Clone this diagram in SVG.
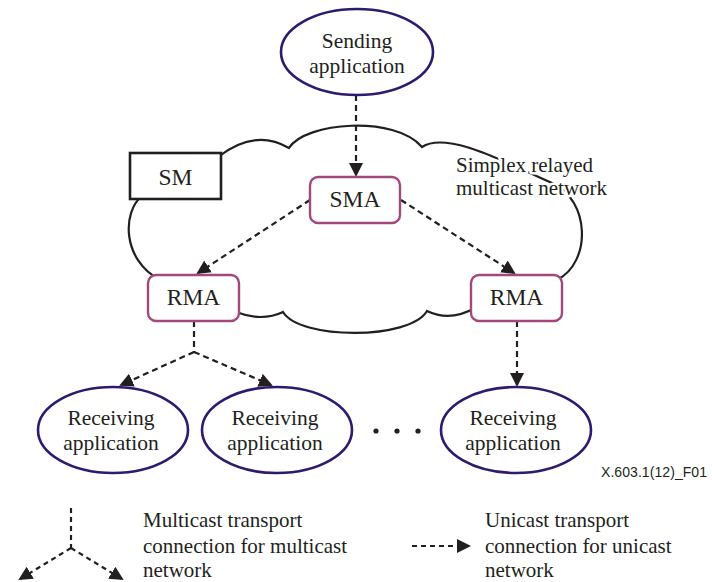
<svg xmlns="http://www.w3.org/2000/svg" width="712" height="582" viewBox="0 0 712 582">
<style>
  .bg { fill: #ffffff; }
  .cloud { fill: none; stroke: #231f20; stroke-width: 2.2; }
  .app { fill: #ffffff; stroke: #2e1a6e; stroke-width: 2.6; }
  .agent { fill: #ffffff; stroke: #a2487c; stroke-width: 2.4; }
  .sm { fill: #ffffff; stroke: #231f20; stroke-width: 2.6; }
  .lbl { font-family: "Liberation Serif", "Times New Roman", serif; fill: #231f20; }
  .big { font-size: 23.5px; text-anchor: middle; }
  .mid { font-size: 21.5px; text-anchor: middle; }
  .txt { font-size: 21px; }
  .halo { paint-order: stroke; stroke: #ffffff; stroke-width: 5; stroke-linejoin: round; }
  .conn { fill: none; stroke: #231f20; stroke-width: 2.2; stroke-dasharray: 6 4; }
  .leg { fill: none; stroke: #231f20; stroke-width: 2.2; stroke-dasharray: 5 4; }
  .ref { font-family: "Liberation Sans", Arial, sans-serif; font-size: 14px; fill: #231f20; }
</style>
<defs>
  <marker id="arr" viewBox="0 0 14 14" refX="12" refY="7" markerWidth="14" markerHeight="14" markerUnits="userSpaceOnUse" orient="auto">
    <path d="M0,0 L14,7 L0,14 z" fill="#231f20"/>
  </marker>
</defs>
<rect class="bg" x="0" y="0" width="712" height="582"/>

<g id="cloud">
  <path class="cloud" d="M218,157 Q255,128 289,148 C305,122 395,115 422,147 C448,130 510,165 552,183 C590,200 592,262 557,280 L475,308 Q450,322 427,311 C410,340 300,340 283,312 Q262,322 236,312 L160,280 C122,260 122,212 142,196 Z"/>
  <text class="lbl txt halo" x="456" y="172">Simplex relayed</text>
  <text class="lbl txt halo" x="456" y="195">multicast network</text>
</g>

<g id="connectors">
  <line class="conn" x1="356" y1="95" x2="356" y2="175" marker-end="url(#arr)"/>
  <line class="conn" x1="310" y1="200" x2="198" y2="273" marker-end="url(#arr)"/>
  <line class="conn" x1="401" y1="200" x2="514" y2="273" marker-end="url(#arr)"/>
  <line class="conn" x1="517" y1="321" x2="517" y2="385" marker-end="url(#arr)"/>
  <polyline class="conn" points="194,321 194,352"/>
  <line class="conn" x1="194" y1="352" x2="121" y2="385" marker-end="url(#arr)"/>
  <line class="conn" x1="194" y1="352" x2="271" y2="385" marker-end="url(#arr)"/>
</g>

<g id="sending-application">
  <ellipse class="app" cx="357" cy="52" rx="76" ry="43"/>
  <text class="lbl mid" x="357" y="48">Sending</text>
  <text class="lbl mid" x="357" y="73">application</text>
</g>

<g id="sm">
  <rect class="sm" x="130" y="153" width="91" height="46"/>
  <text class="lbl big" x="175.5" y="185">SM</text>
</g>

<g id="sma">
  <rect class="agent" x="310" y="177" width="90" height="46" rx="8"/>
  <text class="lbl big" x="355" y="207">SMA</text>
</g>

<g id="rma-left">
  <rect class="agent" x="148" y="275" width="91" height="46" rx="8"/>
  <text class="lbl big" x="193.5" y="305">RMA</text>
</g>

<g id="rma-right">
  <rect class="agent" x="471" y="275" width="91" height="46" rx="8"/>
  <text class="lbl big" x="516.5" y="305">RMA</text>
</g>

<g id="receiving-application-1">
  <ellipse class="app" cx="113" cy="430" rx="75" ry="43"/>
  <text class="lbl mid" x="111" y="425">Receiving</text>
  <text class="lbl mid" x="111" y="450">application</text>
</g>

<g id="receiving-application-2">
  <ellipse class="app" cx="277" cy="430" rx="75" ry="43"/>
  <text class="lbl mid" x="275" y="425">Receiving</text>
  <text class="lbl mid" x="275" y="450">application</text>
</g>

<g id="ellipsis">
  <circle cx="376" cy="431" r="2.6" fill="#231f20"/>
  <circle cx="397" cy="431" r="2.6" fill="#231f20"/>
  <circle cx="418" cy="431" r="2.6" fill="#231f20"/>
</g>

<g id="receiving-application-3">
  <ellipse class="app" cx="516" cy="430" rx="75" ry="43"/>
  <text class="lbl mid" x="513" y="425">Receiving</text>
  <text class="lbl mid" x="513" y="450">application</text>
</g>

<text class="ref" x="601" y="477" textLength="106" lengthAdjust="spacing">X.603.1(12)_F01</text>

<g id="legend-multicast">
  <line class="leg" x1="71" y1="508" x2="71" y2="548"/>
  <line class="leg" x1="71" y1="548" x2="20" y2="579" marker-end="url(#arr)"/>
  <line class="leg" x1="71" y1="548" x2="122" y2="579" marker-end="url(#arr)"/>
  <text class="lbl txt" x="143" y="527">Multicast transport</text>
  <text class="lbl txt" x="143" y="553">connection for multicast</text>
  <text class="lbl txt" x="143" y="577">network</text>
</g>

<g id="legend-unicast">
  <line class="leg" x1="412" y1="546" x2="469" y2="546" marker-end="url(#arr)"/>
  <text class="lbl txt" x="485" y="527">Unicast transport</text>
  <text class="lbl txt" x="485" y="553">connection for unicast</text>
  <text class="lbl txt" x="485" y="577">network</text>
</g>
</svg>
